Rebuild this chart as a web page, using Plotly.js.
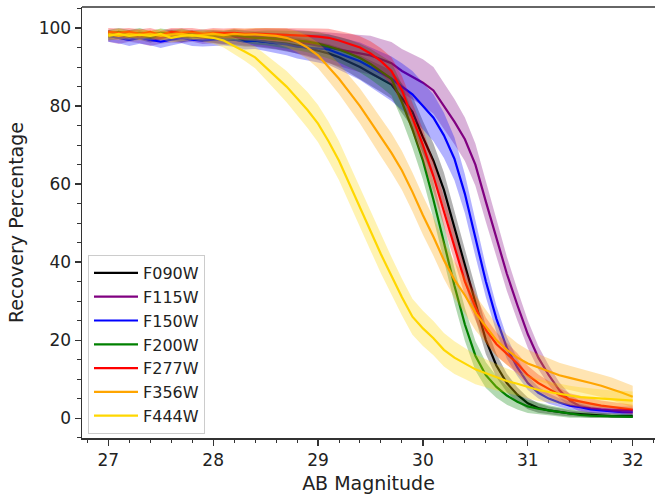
<!DOCTYPE html>
<html>
<head>
<meta charset="utf-8">
<script src="https://cdn.plot.ly/plotly-3.0.1.min.js"></script>
<style>
html,body{margin:0;padding:0;overflow:hidden;background:#fff;}
#chart{width:655px;height:495px;}
</style>
</head>
<body>
<div id="chart"></div>
<script>
// AB magnitude grid (27.0 .. 32.0, step 0.1)
const magnitudes = [27.0,27.1,27.2,27.3,27.4,27.5,27.6,27.7,27.8,27.9,
  28.0,28.1,28.2,28.3,28.4,28.5,28.6,28.7,28.8,28.9,
  29.0,29.1,29.2,29.3,29.4,29.5,29.6,29.7,29.8,29.9,
  30.0,30.1,30.2,30.3,30.4,30.5,30.6,30.7,30.8,30.9,
  31.0,31.1,31.2,31.3,31.4,31.5,31.6,31.7,31.8,31.9,32.0];

const filters = ["F090W","F115W","F150W","F200W","F277W","F356W","F444W"];
const colors = ["#000000","#800080","#0000ff","#008000","#ff0000","#ffa500","#ffd700"];
const bandColors = ["rgba(0,0,0,0.3)","rgba(128,0,128,0.3)","rgba(0,0,255,0.3)","rgba(0,128,0,0.3)","rgba(255,0,0,0.3)","rgba(255,165,0,0.3)","rgba(255,215,0,0.3)"];

const F090W = [98,98.2,97.8,98,97.5,98,97.8,97.5,98,97.6,
  97.5,97.2,97,96.8,96.8,96.5,96.3,96,95.5,95,
  94.2,93.5,92.5,91.3,90,88.5,87,85.5,82,78.5,
  72,66,58.5,49,39,29.5,20,13.5,9,6,
  3.8,2.6,2,1.6,1.2,1,0.8,0.6,0.5,0.5,0.5];
const F115W = [98,97.5,98,97.8,97,97.5,98,97.8,98,97.5,
  97.8,97.5,97.8,97.5,97.6,97.5,97.2,97,96.5,96,
  95.5,95,94.5,94,93.5,93,92,91,89,87.5,
  86,84,80,76,71.5,65,55.5,46,37,29,
  21.5,15.5,11,7.2,4.5,3,2.5,2.2,2,2,2];
const F150W = [98,97.5,97,97.5,97,96.5,97,97.5,97,96.8,
  97,97.2,97,96.5,96.8,96.5,96.2,95.8,95.2,95,
  94.8,94.5,93.5,92.5,91.5,90,88.5,87,85,83,
  80,77,72.5,66.5,57.5,46,35,25.5,18,13,
  9,6.5,5,4,3.2,2.8,2.2,2,1.8,1.5,1.5];
const F200W = [98.5,99,98.5,98.8,98.2,98.8,98.5,98.7,98.3,98.5,
  98.2,98,98.2,97.8,97.5,97.5,97.3,97,96.8,96.5,
  96,95.3,94.5,93.5,92.3,90.8,89,87,81,74,
  66,56,45,34,24,16,11,8,5.8,4.2,
  3,2.4,2,1.6,1.2,0.8,0.6,0.5,0.4,0.3,0.3];
const F277W = [99,98.8,99,98.5,99,98.2,99,98.8,99,98.5,
  98.8,98.7,98.8,98.5,98.6,98.5,98.4,98.3,98.2,98,
  97.8,97.5,96.8,96,95,93.5,91.5,89,84,77,
  70,62,53,44,35,28.5,22.6,19,16.5,14,
  11,9,7.5,6,4.8,4.2,3.7,3.2,2.9,2.5,2.2];
const F356W = [98.5,98,98.5,98.2,98.5,98,98.3,98.5,98,98.3,
  98.5,98.2,98.5,98.3,98.4,98.2,98,97.5,96.5,95,
  93,90,87,83.5,80,76,72,68,63.5,58,
  52,46.5,40.5,35.5,31.5,27,23.5,20,17.5,15.5,
  14,13,12,11,10.3,9.7,9,8.3,7.5,6.5,5.5];
const F444W = [98,98.5,98,98.3,98,98.5,97.5,98,98.2,97.8,
  97.5,96.8,95.5,94,92.5,90,87.5,85,82,79,
  75.5,71,66,60,54,48,42,36.5,31,26,
  23,20.5,17.5,15.5,14,12.5,11.5,10.5,9.5,8.8,
  8,7.2,6.7,6.2,5.8,5.4,5.2,5,4.8,4.7,4.5];

// half-widths of the shaded uncertainty bands
const errF090W = [1.2,1.0,1.1,1.0,1.2,1.1,1.0,1.2,1.1,1.0,
  1.2,1.3,1.4,1.5,1.6,1.7,1.8,1.9,2.0,2.1,
  2.2,2.4,2.6,2.8,3.0,3.2,3.4,3.6,3.8,4.0,
  4.2,4.4,4.5,4.5,4.3,4.0,3.6,3.0,2.4,1.9,
  1.5,1.2,1.0,0.9,0.8,0.7,0.7,0.6,0.6,0.6,0.6];
const errF115W = [1.5,1.6,1.5,1.7,1.6,1.5,1.7,1.6,1.5,1.6,
  1.7,1.8,1.9,2.0,2.2,2.4,2.6,2.8,3.0,3.3,
  3.6,3.9,4.2,4.5,4.8,5.0,5.2,5.4,5.6,5.8,
  6.0,6.0,6.0,5.8,5.6,5.4,5.2,4.8,4.4,4.0,
  3.5,3.0,2.5,2.0,1.6,1.4,1.2,1.1,1.0,1.0,1.0];
const errF150W = [1.5,1.4,1.6,1.5,1.4,1.6,1.5,1.4,1.6,1.5,
  1.6,1.7,1.8,2.0,2.2,2.4,2.6,2.8,3.0,3.3,
  3.6,3.9,4.2,4.5,4.8,5.1,5.4,5.7,6.0,6.0,
  6.0,6.0,5.8,5.5,5.0,4.5,4.0,3.4,2.8,2.2,
  1.8,1.5,1.3,1.1,1.0,0.9,0.8,0.8,0.7,0.7,0.7];
const errF200W = [1.0,1.1,1.0,1.2,1.0,1.1,1.0,1.2,1.0,1.1,
  1.2,1.3,1.4,1.5,1.7,1.9,2.1,2.3,2.5,2.7,
  2.9,3.1,3.3,3.5,3.7,3.9,4.1,4.3,4.5,4.7,
  4.8,4.8,4.7,4.5,4.2,3.8,3.3,2.8,2.4,2.0,
  1.7,1.5,1.3,1.2,1.1,1.0,0.9,0.8,0.8,0.8,0.8];
const errF277W = [1.0,1.1,1.0,1.2,1.0,1.1,1.0,1.2,1.0,1.1,
  1.2,1.2,1.3,1.4,1.5,1.6,1.7,1.8,1.9,2.0,
  2.1,2.3,2.5,2.7,2.9,3.1,3.3,3.5,3.7,3.9,
  4.0,4.0,3.9,3.8,3.6,3.4,3.2,3.0,2.8,2.6,
  2.4,2.2,2.0,1.8,1.6,1.5,1.4,1.3,1.2,1.2,1.2];
const errF356W = [1.0,1.1,1.0,1.2,1.0,1.1,1.0,1.2,1.0,1.1,
  1.2,1.3,1.4,1.5,1.7,1.9,2.1,2.4,2.7,3.0,
  3.3,3.6,3.9,4.2,4.5,4.7,4.9,5.0,5.0,5.0,
  5.0,4.9,4.8,4.7,4.6,4.5,4.3,4.1,3.9,3.7,
  3.5,3.4,3.3,3.2,3.1,3.0,3.0,2.9,2.9,2.8,2.8];
const errF444W = [1.2,1.3,1.2,1.4,1.2,1.3,1.2,1.4,1.2,1.3,
  1.5,1.8,2.1,2.4,2.8,3.2,3.6,4.0,4.3,4.6,
  4.8,5.0,5.0,5.0,5.0,5.0,4.9,4.8,4.7,4.6,
  4.5,4.4,4.3,4.2,4.0,3.8,3.6,3.4,3.2,3.0,
  2.9,2.8,2.7,2.6,2.5,2.5,2.4,2.4,2.3,2.3,2.3];

const xTickVals = [27,28,29,30,31,32];
const yTickVals = [0,20,40,60,80,100];

const series = [F090W,F115W,F150W,F200W,F277W,F356W,F444W];
const errors = [errF090W,errF115W,errF150W,errF200W,errF277W,errF356W,errF444W];

const traces = [];
series.forEach((ys, k) => {
  const err = errors[k];
  const upper = ys.map((v,i) => Math.min(100, v + err[i]));
  const lower = ys.map((v,i) => Math.max(0, v - err[i]));
  traces.push({
    x: magnitudes.concat(magnitudes.slice().reverse()),
    y: upper.concat(lower.slice().reverse()),
    type: "scatter", mode: "lines", fill: "toself",
    fillcolor: bandColors[k], line: {width: 0, color: bandColors[k]},
    showlegend: false, hoverinfo: "skip"
  });
  traces.push({
    x: magnitudes, y: ys, type: "scatter", mode: "lines",
    name: filters[k], line: {color: colors[k], width: 2.2}
  });
});

// plot area starts at 82px with ~104.9 px per magnitude; the right spine lies beyond the cropped edge
const axisFont = {family: "DejaVu Sans", size: 17, color: "#222"};
const spine = "#333";
const layout = {
  width: 655, height: 495,
  margin: {l: 82, r: 0, t: 7, b: 57},
  paper_bgcolor: "#fff", plot_bgcolor: "#fff",
  showlegend: true,
  xaxis: {
    range: [26.75, 26.75 + 573/104.9], tickvals: xTickVals, ticktext: xTickVals.map(String),
    showgrid: false, zeroline: false, showline: true, mirror: false,
    linecolor: spine, linewidth: 1.5,
    ticks: "outside", ticklen: 6, tickwidth: 1.2, tickcolor: spine,
    minor: {dtick: 0.2, tick0: 27, ticks: "outside", ticklen: 3.5, tickwidth: 1, tickcolor: spine, showgrid: false},
    tickfont: axisFont,
    title: {text: "AB Magnitude", font: {family: "DejaVu Sans", size: 19, color: "#222"}, standoff: 8},
    automargin: false
  },
  yaxis: {
    range: [-5.1, 105.4], tickvals: yTickVals, ticktext: yTickVals.map(String),
    showgrid: false, zeroline: false, showline: true, mirror: false,
    linecolor: spine, linewidth: 1.5,
    ticks: "outside", ticklen: 6, tickwidth: 1.2, tickcolor: spine,
    minor: {dtick: 5, tick0: 0, ticks: "outside", ticklen: 3.5, tickwidth: 1, tickcolor: spine, showgrid: false},
    tickfont: axisFont,
    title: {text: "Recovery Percentage", font: {family: "DejaVu Sans", size: 19, color: "#222"}, standoff: 10},
    automargin: false
  },
  shapes: [
    {type: "line", xref: "paper", yref: "paper", x0: 0, x1: 1, y0: 1, y1: 1,
     line: {color: spine, width: 1.5}}
  ],
  legend: {
    x: 6/573, y: 0.0093, xanchor: "left", yanchor: "bottom",
    bgcolor: "rgba(255,255,255,0.85)", bordercolor: "#cccccc", borderwidth: 1,
    itemwidth: 44,
    font: {family: "DejaVu Sans", size: 16, color: "#222"}
  }
};

Plotly.newPlot("chart", traces, layout, {displayModeBar: false, staticPlot: true});
</script>
</body>
</html>
